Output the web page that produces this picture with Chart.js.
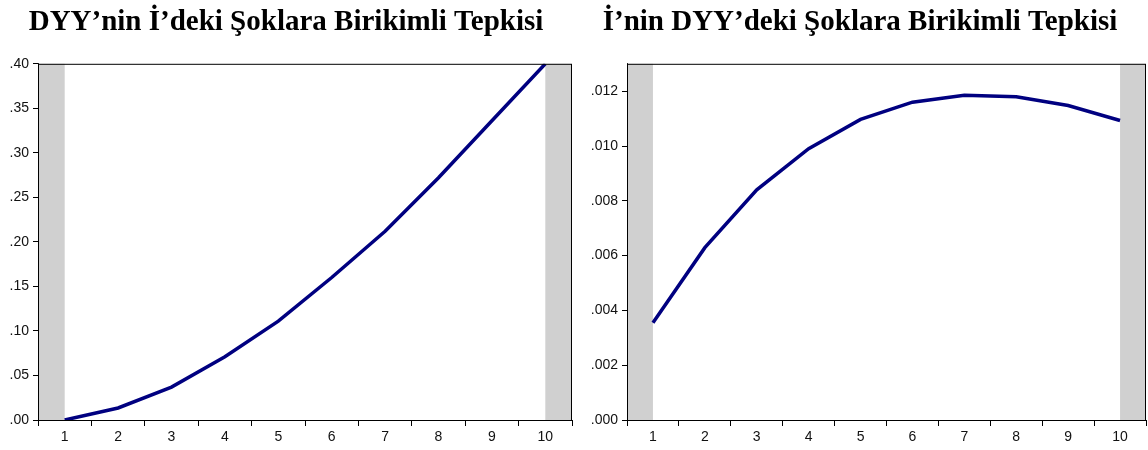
<!DOCTYPE html>
<html>
<head>
<meta charset="utf-8">
<script src="https://cdn.jsdelivr.net/npm/chart.js@4"></script>
<style>
  body { margin: 0; background: #fff; }
  #wrap { display: flex; width: 1148px; height: 450px; }
  canvas { display: block; }
</style>
</head>
<body>
<div id="wrap">
  <canvas id="leftChart" width="574" height="450"></canvas>
  <canvas id="rightChart" width="574" height="450"></canvas>
</div>
<script>
"use strict";

// Dönemler
const periods = ["1", "2", "3", "4", "5", "6", "7", "8", "9", "10"];

// DYY'nin İ'deki şoklara birikimli tepkisi
const dyyResponse = [0.0, 0.0135, 0.037, 0.071, 0.111, 0.160, 0.212, 0.272, 0.336, 0.400];
// İ'nin DYY'deki şoklara birikimli tepkisi
const iResponse = [0.00355, 0.00629, 0.0084, 0.0099, 0.01097, 0.0116, 0.01185, 0.0118, 0.01148, 0.01093];

// Eksen değerleri
const leftTicks = [0, 0.05, 0.10, 0.15, 0.20, 0.25, 0.30, 0.35, 0.40];
const rightTicks = [0, 0.002, 0.004, 0.006, 0.008, 0.010, 0.012];

const titles = [
  "DYY\u2019nin \u0130\u2019deki \u015eoklara Birikimli Tepkisi",
  "\u0130\u2019nin DYY\u2019deki \u015eoklara Birikimli Tepkisi"
];

// gri bantlar + çerçeve
const framePlugin = {
  id: "frame",
  beforeDatasetsDraw(chart) {
    const ctx = chart.ctx;
    const a = chart.chartArea;
    const x = chart.scales.x;
    const first = x.getPixelForValue(0);
    const last = x.getPixelForValue(periods.length - 1);
    ctx.save();
    ctx.fillStyle = "#d0d0d0";
    ctx.fillRect(a.left, a.top, first - a.left, a.bottom - a.top);
    ctx.fillRect(last, a.top, a.right - last, a.bottom - a.top);
    ctx.restore();
  },
  afterDatasetsDraw(chart) {
    const ctx = chart.ctx;
    const a = chart.chartArea;
    ctx.save();
    ctx.strokeStyle = "#000";
    ctx.lineWidth = 1;
    ctx.strokeRect(a.left + 0.5, a.top + 0.5, a.right - a.left - 1, a.bottom - a.top);
    ctx.restore();
  }
};

function makeChart(id, title, values, ticks, yMax, decimals, yWidth) {
  return new Chart(document.getElementById(id), {
    type: "line",
    data: {
      labels: periods,
      datasets: [{
        data: values,
        borderColor: "#000080",
        borderWidth: 3.5,
        pointRadius: 0,
        tension: 0,
        fill: false
      }]
    },
    options: {
      responsive: false,
      animation: false,
      layout: { padding: { left: 0, right: 2, top: 0, bottom: 0 } },
      plugins: {
        legend: { display: false },
        tooltip: { enabled: false },
        title: {
          display: true,
          text: title,
          color: "#000",
          font: { family: "Liberation Serif", size: 29, weight: "bold" },
          padding: { top: 5, bottom: 24 }
        }
      },
      scales: {
        x: {
          offset: true,
          grid: {
            display: true,
            offset: true,
            drawOnChartArea: false,
            drawTicks: true,
            tickLength: 6,
            color: "#000"
          },
          border: { display: true, color: "#000" },
          ticks: {
            color: "#111",
            padding: 3,
            maxRotation: 0,
            font: { family: "Liberation Sans", size: 14 }
          },
          afterFit(scale) { scale.height = 30; }
        },
        y: {
          min: 0,
          max: yMax,
          grid: {
            display: true,
            drawOnChartArea: false,
            drawTicks: true,
            tickLength: 5,
            color: "#000"
          },
          border: { display: true, color: "#000" },
          afterBuildTicks(scale) {
            scale.ticks = ticks.map((v) => ({ value: v }));
          },
          ticks: {
            color: "#111",
            padding: 4,
            font: { family: "Liberation Sans", size: 14 },
            callback: (v) => v.toFixed(decimals).replace(/^0/, "")
          },
          afterFit(scale) { scale.width = yWidth; }
        }
      }
    },
    plugins: [framePlugin]
  });
}

makeChart("leftChart", titles[0], dyyResponse, leftTicks, 0.40, 2, 38);
makeChart("rightChart", titles[1], iResponse, rightTicks, 0.013, 3, 53);
</script>
</body>
</html>
